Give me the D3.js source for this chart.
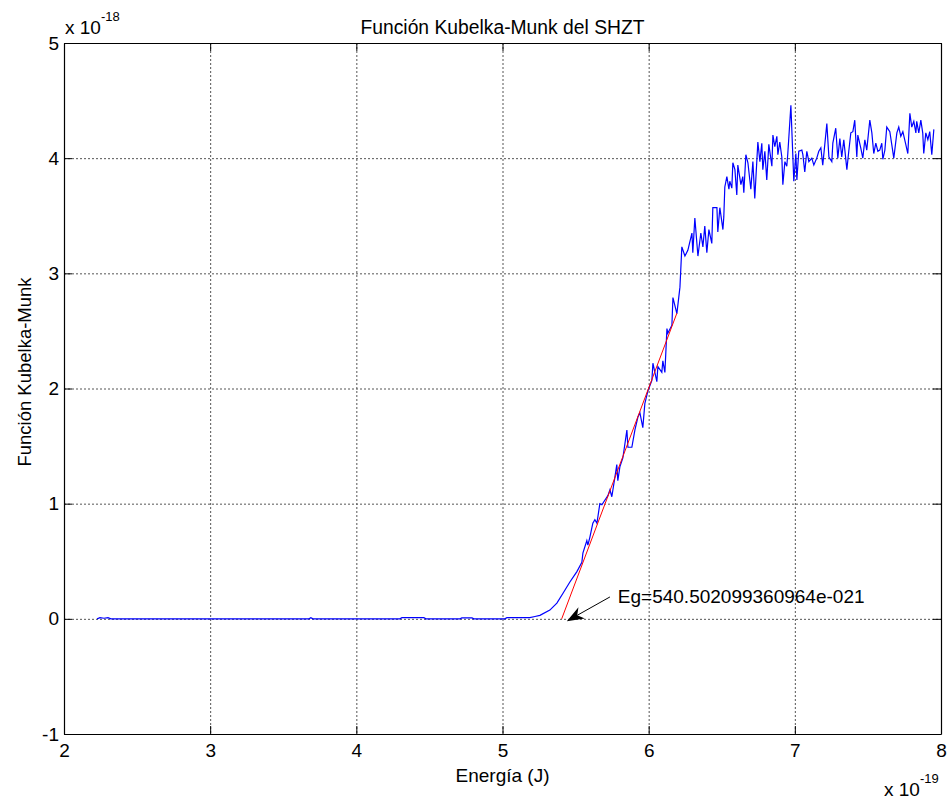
<!DOCTYPE html>
<html>
<head>
<meta charset="utf-8">
<script src="https://cdn.jsdelivr.net/npm/d3@7"></script>
<style>
  body { margin: 0; background: #fff; }
  svg { display: block; font-family: "Liberation Sans", Arial, sans-serif; }
  .grid line { stroke: #555; stroke-dasharray: 2,2; stroke-width: 1; }
</style>
</head>
<body>
<div id="chart"></div>
<script>
// valores en unidades de 1e-19 J (x) y 1e-18 (y)
const energia = [
  2.226, 2.246, 2.274, 2.301, 2.321, 3.676, 3.689, 3.703, 4.298, 4.312,
  4.462, 4.476, 4.709, 4.722, 4.791, 4.804, 5.016, 5.030, 5.187, 5.222,
  5.256, 5.324, 5.372, 5.413, 5.461, 5.509, 5.543, 5.550, 5.577, 5.584,
  5.598, 5.618, 5.632, 5.646, 5.666, 5.680, 5.700, 5.721, 5.735, 5.748,
  5.769, 5.782, 5.789, 5.803, 5.824, 5.851, 5.858, 5.885, 5.906, 5.926,
  5.940, 5.960, 5.974, 5.995, 6.022, 6.029, 6.056, 6.063, 6.090, 6.097,
  6.111, 6.125, 6.131, 6.159, 6.166, 6.193, 6.214, 6.227, 6.248, 6.268,
  6.296, 6.302, 6.316, 6.337, 6.357, 6.371, 6.384, 6.398, 6.412, 6.432,
  6.439, 6.467, 6.473, 6.487, 6.508, 6.514, 6.521, 6.535, 6.549, 6.555,
  6.569, 6.576, 6.590, 6.603, 6.610, 6.631, 6.644, 6.651, 6.665, 6.679,
  6.699, 6.713, 6.726, 6.747, 6.761, 6.774, 6.781, 6.795, 6.808, 6.822,
  6.843, 6.850, 6.863, 6.877, 6.884, 6.897, 6.911, 6.918, 6.932, 6.945,
  6.952, 6.973, 6.986, 6.993, 7.007, 7.014, 7.027, 7.048, 7.055, 7.068,
  7.082, 7.096, 7.116, 7.130, 7.150, 7.164, 7.178, 7.191, 7.205, 7.219,
  7.233, 7.253, 7.260, 7.280, 7.294, 7.308, 7.321, 7.335, 7.356, 7.369,
  7.383, 7.397, 7.410, 7.424, 7.431, 7.451, 7.465, 7.479, 7.492, 7.513,
  7.527, 7.540, 7.554, 7.568, 7.581, 7.595, 7.602, 7.616, 7.629, 7.650,
  7.663, 7.677, 7.698, 7.711, 7.725, 7.739, 7.759, 7.773, 7.787, 7.800,
  7.814, 7.828, 7.834, 7.848, 7.862, 7.875, 7.882, 7.896, 7.910, 7.923,
  7.937, 7.951
];
const kubelka = [
  0, 0.01, 0.005, 0.01, 0, 0, 0.01, 0, 0, 0.01,
  0.01, 0, 0, 0.008, 0.008, 0, 0, 0.01, 0.01, 0.02,
  0.03, 0.076, 0.137, 0.22, 0.32, 0.41, 0.49, 0.57, 0.68, 0.64,
  0.71, 0.83, 0.86, 0.83, 1.0, 0.99, 1.03, 1.07, 1.12, 1.06,
  1.23, 1.34, 1.2, 1.32, 1.40, 1.64, 1.49, 1.49, 1.64, 1.75,
  1.79, 1.66, 1.87, 1.98, 2.07, 2.22, 2.06, 2.19, 2.14, 2.24,
  2.14, 2.52, 2.48, 2.55, 2.79, 2.65, 2.88, 3.23, 3.15, 3.20,
  3.35, 3.18, 3.48, 3.15, 3.35, 3.23, 3.41, 3.18, 3.38, 3.26,
  3.57, 3.57, 3.36, 3.57, 3.38, 3.49, 3.75, 3.84, 3.73, 3.80,
  3.74, 3.96, 3.90, 3.68, 3.94, 3.77, 3.84, 3.70, 4.03, 3.96,
  3.73, 3.97, 3.65, 4.14, 3.97, 4.13, 3.90, 4.06, 3.81, 4.12,
  3.93, 4.20, 4.10, 4.19, 4.03, 4.14, 4.01, 3.77, 3.97, 3.93,
  4.04, 4.46, 4.03, 3.80, 4.04, 3.81, 4.06, 4.07, 4.03, 3.88,
  4.06, 3.97, 4.0, 3.94, 4.0, 4.06, 4.09, 3.94, 4.12, 4.30,
  4.01, 3.97, 4.13, 4.26, 4.0, 4.17, 4.01, 4.16, 3.90, 4.06,
  4.22, 4.23, 4.33, 4.01, 4.20, 4.09, 4.0, 4.16, 4.07, 4.33,
  4.22, 4.04, 4.13, 4.06, 4.07, 4.13, 3.99, 4.07, 4.27, 4.23,
  4.12, 4.0, 4.22, 4.27, 4.19, 4.23, 4.12, 4.04, 4.39, 4.27,
  4.32, 4.22, 4.32, 4.22, 4.33, 4.22, 4.04, 4.22, 4.16, 4.23,
  4.03, 4.25
];
// recta de ajuste (rojo)
const ajuste_x = [5.405, 6.193];
const ajuste_y = [0, 2.654];
const x_ticks = [2, 3, 4, 5, 6, 7, 8];
const y_ticks = [-1, 0, 1, 2, 3, 4, 5];
const eg_label = "Eg=540.502099360964e-021";

const chart = {
  width: 951,
  height: 804,
  plot: { left: 64, right: 941, top: 43, bottom: 734 },
  tick_len: 8,
  font: 19
};

const svg = d3.select("#chart")
  .append("svg")
    .attr("width", chart.width)
    .attr("height", chart.height);

const x = d3.scaleLinear().domain([2, 8]).range([chart.plot.left, chart.plot.right]);
const y = d3.scaleLinear().domain([-1, 5]).range([chart.plot.bottom, chart.plot.top]);

// grid
const grid = svg.append("g").attr("class", "grid");
grid.selectAll(".gx")
  .data(x_ticks.slice(1, -1))
  .join("line")
    .attr("x1", d => x(d) + 0.5).attr("x2", d => x(d) + 0.5)
    .attr("y1", chart.plot.top).attr("y2", chart.plot.bottom);
grid.selectAll(".gy")
  .data(y_ticks.slice(1, -1))
  .join("line")
    .attr("class", "gy")
    .attr("x1", chart.plot.left).attr("x2", chart.plot.right)
    .attr("y1", d => y(d) + 0.5).attr("y2", d => y(d) + 0.5);

// curvas
const points = energia.map((e, i) => [e, kubelka[i]]);
const line = d3.line().x(d => x(d[0])).y(d => y(d[1]));

svg.append("path")
  .datum(points)
  .attr("d", line)
  .attr("fill", "none")
  .attr("stroke", "#0000ff")
  .attr("stroke-width", 1.2);

svg.append("path")
  .datum(ajuste_x.map((e, i) => [e, ajuste_y[i]]))
  .attr("d", line)
  .attr("fill", "none")
  .attr("stroke", "#ff0000")
  .attr("stroke-width", 1);

// caja y ticks (hacia dentro, en los 4 lados)
const fmt = d => String(d);  // guion normal, como matlab
const bottom_axis = d3.axisBottom(x).tickValues(x_ticks).tickSize(-chart.tick_len).tickFormat(fmt);
const top_axis = d3.axisTop(x).tickValues(x_ticks).tickSize(-chart.tick_len).tickFormat("");
const left_axis = d3.axisLeft(y).tickValues(y_ticks).tickSize(-chart.tick_len).tickFormat(fmt);
const right_axis = d3.axisRight(y).tickValues(y_ticks).tickSize(-chart.tick_len).tickFormat("");

function style_axis(g) {
  g.select(".domain").attr("stroke", "#000").attr("stroke-width", 1.2);
  g.selectAll(".tick line").attr("stroke", "#000");
  g.selectAll("text")
    .attr("fill", "#000")
    .style("font-size", chart.font + "px")
    .style("font-family", "'Liberation Sans', Arial, sans-serif");
}

svg.append("g")
  .attr("transform", `translate(0,${chart.plot.bottom})`)
  .call(bottom_axis.tickSizeOuter(0))
  .call(style_axis)
  .call(g => g.selectAll("text").attr("dy", "0.71em").attr("y", 10));
svg.append("g")
  .attr("transform", `translate(0,${chart.plot.top})`)
  .call(top_axis.tickSizeOuter(0))
  .call(style_axis);
svg.append("g")
  .attr("transform", `translate(${chart.plot.left},0)`)
  .call(left_axis.tickSizeOuter(0))
  .call(style_axis)
  .call(g => g.selectAll("text").attr("x", -5));
svg.append("g")
  .attr("transform", `translate(${chart.plot.right},0)`)
  .call(right_axis.tickSizeOuter(0))
  .call(style_axis);

// multiplicadores de escala
function exponent_label(px, py, exp) {
  const t = svg.append("text")
    .attr("x", px).attr("y", py)
    .style("font-size", chart.font + "px");
  t.append("tspan").text("x 10");
  t.append("tspan").attr("dy", -13).style("font-size", "13px").text(exp);
}
exponent_label(65, 34, "-18");
exponent_label(884, 796, "-19");

// titulo y etiquetas
svg.append("text")
  .attr("x", (chart.plot.left + chart.plot.right) / 2)
  .attr("y", 34)
  .attr("text-anchor", "middle")
  .style("font-size", "19.3px")
  .text("Función Kubelka-Munk del SHZT");

svg.append("text")
  .attr("x", (chart.plot.left + chart.plot.right) / 2)
  .attr("y", 782)
  .attr("text-anchor", "middle")
  .style("font-size", chart.font + "px")
  .text("Energía (J)");

svg.append("text")
  .attr("transform", "translate(31,372) rotate(-90)")
  .attr("text-anchor", "middle")
  .style("font-size", "18.5px")
  .text("Función Kubelka-Munk");

// anotacion con flecha
const tail = [x(5.735), y(0.19)];
const tip = [x(5.44), y(-0.02)];
const ang = Math.atan2(tip[1] - tail[1], tip[0] - tail[0]);
const head_len = 17, head_w = 6.5;
const back = [tip[0] - head_len * Math.cos(ang), tip[1] - head_len * Math.sin(ang)];
const notch = [tip[0] - head_len * 0.7 * Math.cos(ang), tip[1] - head_len * 0.7 * Math.sin(ang)];
const nx = -Math.sin(ang), ny = Math.cos(ang);

svg.append("line")
  .attr("x1", tail[0]).attr("y1", tail[1])
  .attr("x2", notch[0]).attr("y2", notch[1])
  .attr("stroke", "#000").attr("stroke-width", 1);

svg.append("path")
  .attr("d", `M${tip[0]},${tip[1]}
    L${back[0] + nx * head_w},${back[1] + ny * head_w}
    L${notch[0]},${notch[1]}
    L${back[0] - nx * head_w},${back[1] - ny * head_w}Z`)
  .attr("fill", "#000");

svg.append("text")
  .attr("x", x(5.789))
  .attr("y", y(0.137))
  .style("font-size", chart.font + "px")
  .text(eg_label);
</script>
</body>
</html>
